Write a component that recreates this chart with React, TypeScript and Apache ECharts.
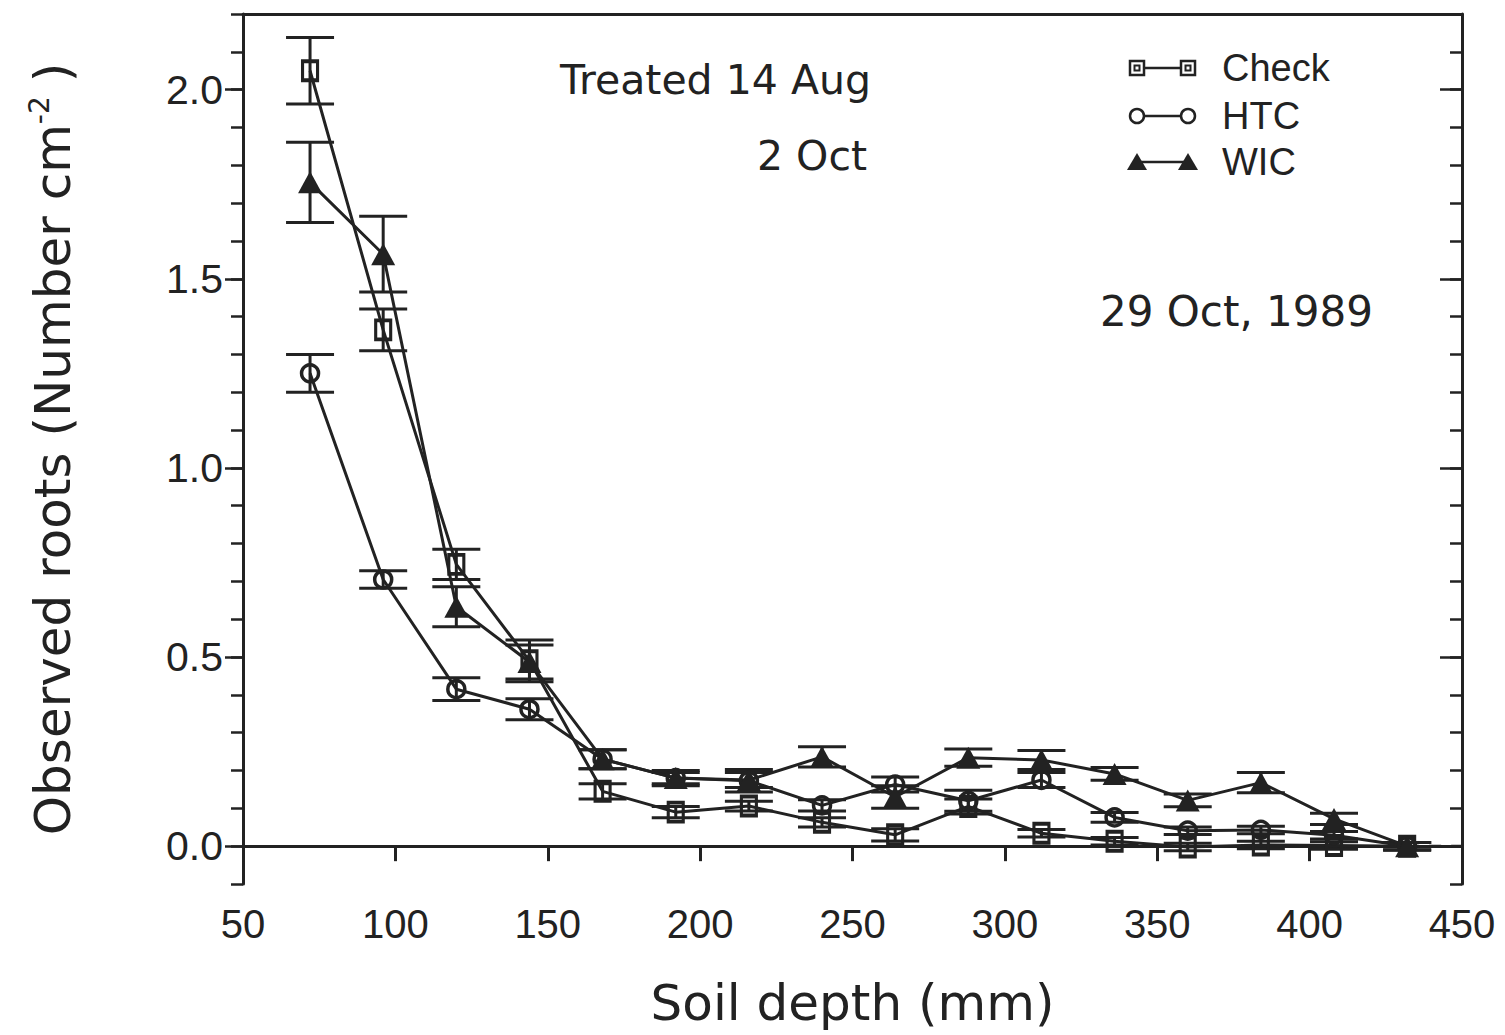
import React, { useEffect, useRef } from "react";
import * as echarts from "echarts";

// ---- data ----
const depthMm = [72, 96, 120, 144, 168, 192, 216, 240, 264, 288, 312, 336, 360, 384, 408, 432];
const checkMean = [2.05, 1.365, 0.745, 0.49, 0.145, 0.09, 0.106, 0.063, 0.03, 0.105, 0.034, 0.013, -0.002, 0.003, 0.002, 0.0];
const checkErr = [0.088, 0.055, 0.04, 0.055, 0.02, 0.015, 0.013, 0.012, 0.016, 0.02, 0.01, 0.01, 0.01, 0.01, 0.01, 0.01];
const htcMean = [1.25, 0.705, 0.415, 0.362, 0.23, 0.18, 0.173, 0.108, 0.163, 0.12, 0.175, 0.076, 0.041, 0.043, 0.029, 0.0];
const htcErr = [0.05, 0.023, 0.03, 0.028, 0.025, 0.02, 0.03, 0.015, 0.02, 0.028, 0.02, 0.013, 0.01, 0.01, 0.01, 0.01];
const wicMean = [1.755, 1.565, 0.633, 0.487, 0.23, 0.18, 0.175, 0.236, 0.13, 0.234, 0.228, 0.191, 0.121, 0.168, 0.072, 0.0];
const wicErr = [0.106, 0.1, 0.053, 0.045, 0.025, 0.015, 0.02, 0.027, 0.03, 0.023, 0.025, 0.017, 0.017, 0.027, 0.015, 0.01];
const tailDepth = [432, 450];
const tailValue = [0, 0];

const yMajorTicks = [0, 0.5, 1.0, 1.5, 2.0];
const yMinorTicks = [-0.1, 0, 0.1, 0.2, 0.3, 0.4, 0.5, 0.6, 0.7, 0.8, 0.9, 1.0, 1.1, 1.2, 1.3, 1.4, 1.5, 1.6, 1.7, 1.8, 1.9, 2.0, 2.1, 2.2];

const INK = "#222";

function pairs(xs: number[], ys: number[]) {
  return xs.map((x, i) => [x, ys[i]]);
}
function errRows(xs: number[], m: number[], e: number[]) {
  return xs.map((x, i) => [x, m[i] - e[i], m[i] + e[i]]);
}

function errorBarSeries(rows: number[][]) {
  return {
    type: "custom",
    xAxisIndex: 0,
    yAxisIndex: 0,
    z: 2,
    encode: { x: 0, y: [1, 2] },
    data: rows,
    renderItem: (params: any, api: any) => {
      const x = api.value(0);
      const lo = api.coord([x, api.value(1)]);
      const hi = api.coord([x, api.value(2)]);
      const half = 24;
      const st = { stroke: INK, lineWidth: 3 };
      return {
        type: "group",
        children: [
          { type: "line", shape: { x1: lo[0], y1: lo[1], x2: hi[0], y2: hi[1] }, style: st },
          { type: "line", shape: { x1: lo[0] - half, y1: lo[1], x2: lo[0] + half, y2: lo[1] }, style: st },
          { type: "line", shape: { x1: hi[0] - half, y1: hi[1], x2: hi[0] + half, y2: hi[1] }, style: st },
        ],
      };
    },
  };
}

function legendEntry(y: number, kind: string, label: string) {
  const x1 = 1137;
  const x2 = 1188;
  const children: any[] = [
    { type: "line", shape: { x1, y1: y, x2, y2: y }, style: { stroke: INK, lineWidth: 2.5 } },
  ];
  [x1, x2].forEach((cx) => {
    if (kind === "square") {
      children.push({ type: "rect", shape: { x: cx - 7, y: y - 7, width: 14, height: 14 }, style: { fill: "#fff", stroke: INK, lineWidth: 2.5 } });
      children.push({ type: "rect", shape: { x: cx - 2.5, y: y - 2.5, width: 5, height: 5 }, style: { fill: "none", stroke: INK, lineWidth: 2 } });
    } else if (kind === "circle") {
      children.push({ type: "circle", shape: { cx, cy: y, r: 7 }, style: { fill: "#fff", stroke: INK, lineWidth: 2.5 } });
    } else {
      children.push({ type: "polygon", shape: { points: [[cx - 10, y + 8], [cx + 10, y + 8], [cx, y - 9]] }, style: { fill: INK } });
    }
  });
  children.push({
    type: "text",
    x: 1222,
    y,
    style: { text: label, font: "38px 'Liberation Sans', Arial, sans-serif", fill: INK, verticalAlign: "middle", align: "left" },
  });
  return { type: "group", children };
}

export default function App() {
  const ref = useRef<HTMLDivElement>(null);
  useEffect(() => {
    document.body.style.margin = "0";
    const chart = echarts.init(ref.current!, null, { renderer: "svg" });
    const tickFont = "'Liberation Sans', Arial, sans-serif";
    const titleFont = "'DejaVu Sans', sans-serif";
    const lineStyle = { color: INK, width: 3 };
    const sameY = { type: "value", min: -0.1, max: 2.2, scale: false, splitLine: { show: false } };
    chart.setOption({
      animation: false,
      backgroundColor: "#fff",
      grid: { left: 243, right: 43, top: 14, bottom: 151, containLabel: false },
      xAxis: [
        {
          type: "value",
          min: 50,
          max: 450,
          interval: 50,
          position: "bottom",
          name: "Soil depth (mm)",
          nameLocation: "middle",
          nameGap: 94,
          nameTextStyle: { fontFamily: titleFont, fontSize: 50, color: INK },
          axisLine: { show: true, lineStyle },
          axisTick: { show: true, inside: false, length: 15, lineStyle },
          axisLabel: { fontFamily: tickFont, fontSize: 40, color: INK, margin: 20 },
          splitLine: { show: false },
        },
        {
          type: "value",
          min: 50,
          max: 450,
          position: "top",
          axisLine: { show: true, onZero: false, lineStyle },
          axisTick: { show: false },
          axisLabel: { show: false },
          splitLine: { show: false },
        },
      ],
      yAxis: [
        {
          ...sameY,
          position: "left",
          interval: 0.1,
          name: "Observed roots (Number cm{sup|-2}{a|)}",
          nameLocation: "middle",
          nameRotate: 90,
          nameGap: 162,
          nameTextStyle: {
            fontFamily: titleFont,
            fontSize: 50,
            color: INK,
            rich: {
              sup: { fontFamily: titleFont, fontSize: 28, color: INK, verticalAlign: "top", padding: [0, 0, 28, 0] },
              a: { fontFamily: titleFont, fontSize: 50, color: INK, padding: [0, 0, 0, 14] },
            },
          },
          axisLine: { show: true, onZero: false, lineStyle },
          axisTick: { show: true, inside: false, length: 12, lineStyle: { color: INK, width: 2.5 } },
          axisLabel: {
            fontFamily: tickFont,
            fontSize: 41,
            color: INK,
            margin: 20,
            formatter: (v: number) => {
              const hit = yMajorTicks.find((t) => Math.abs(t - v) < 1e-6);
              return hit === undefined ? "" : hit.toFixed(1);
            },
          },
        },
        {
          ...sameY,
          position: "left",
          axisLine: { show: false },
          axisTick: { show: true, inside: false, length: 18, customValues: yMajorTicks, lineStyle: { color: INK, width: 2.5 } },
          axisLabel: { show: false },
        },
        {
          ...sameY,
          position: "right",
          axisLine: { show: true, onZero: false, lineStyle },
          axisTick: { show: true, inside: true, length: 12, customValues: yMinorTicks, lineStyle: { color: INK, width: 2.5 } },
          axisLabel: { show: false },
        },
        {
          ...sameY,
          position: "right",
          axisLine: { show: false },
          axisTick: { show: true, inside: true, length: 22, customValues: yMajorTicks, lineStyle: { color: INK, width: 2.5 } },
          axisLabel: { show: false },
        },
      ],
      series: [
        errorBarSeries(errRows(depthMm, checkMean, checkErr)),
        errorBarSeries(errRows(depthMm, htcMean, htcErr)),
        errorBarSeries(errRows(depthMm, wicMean, wicErr)),
        {
          name: "Check",
          type: "line",
          data: pairs(depthMm, checkMean),
          z: 3,
          symbol: "rect",
          symbolSize: [15, 19],
          lineStyle: { color: INK, width: 3 },
          itemStyle: { color: "rgba(255,255,255,0)", borderColor: INK, borderWidth: 3.5 },
        },
        {
          name: "HTC",
          type: "line",
          data: pairs(depthMm, htcMean),
          z: 3,
          symbol: "circle",
          symbolSize: 17,
          lineStyle: { color: INK, width: 3 },
          itemStyle: { color: "rgba(255,255,255,0)", borderColor: INK, borderWidth: 3.5 },
        },
        {
          name: "WIC",
          type: "line",
          data: pairs(depthMm, wicMean),
          z: 3,
          symbol: "triangle",
          symbolSize: [24, 22],
          lineStyle: { color: INK, width: 3 },
          itemStyle: { color: INK },
        },
        {
          name: "tail",
          type: "line",
          data: pairs(tailDepth, tailValue),
          z: 1,
          symbol: "none",
          lineStyle: { color: INK, width: 3, type: [12, 10] },
        },
      ],
      graphic: [
        {
          type: "text",
          left: 560,
          top: 59,
          style: { text: "Treated 14 Aug", font: "41px 'DejaVu Sans', sans-serif", fill: INK },
        },
        {
          type: "text",
          left: 757,
          top: 135,
          style: { text: "2 Oct", font: "41px 'DejaVu Sans', sans-serif", fill: INK },
        },
        {
          type: "text",
          left: 1100,
          top: 290,
          style: { text: "29 Oct, 1989", font: "42px 'DejaVu Sans', sans-serif", fill: INK },
        },
        legendEntry(68, "square", "Check"),
        legendEntry(116, "circle", "HTC"),
        legendEntry(162, "triangle", "WIC"),
      ],
    });
    return () => chart.dispose();
  }, []);
  return <div ref={ref} style={{ width: 1505, height: 1035 }} />;
}
